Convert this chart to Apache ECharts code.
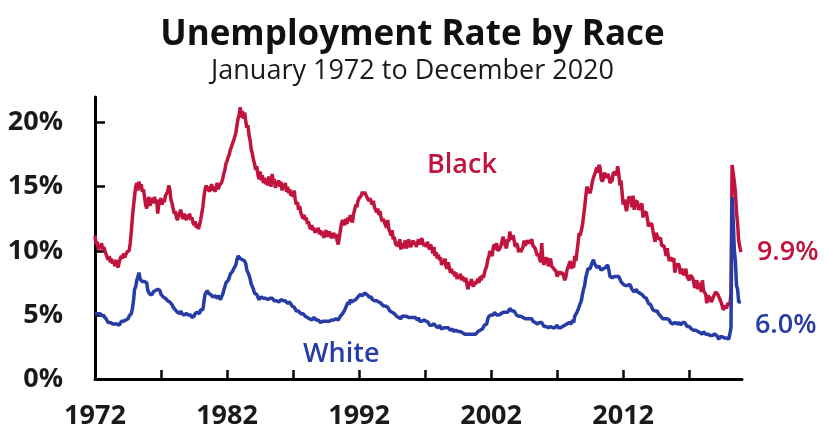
<!DOCTYPE html>
<html>
<head>
<meta charset="utf-8">
<script src="https://cdn.jsdelivr.net/npm/echarts@6/dist/echarts.min.js"></script>
<style>
  html, body { margin: 0; padding: 0; background: #ffffff; }
  #chart { width: 825px; height: 434px; }
</style>
</head>
<body>
<div id="chart"></div>
<script>
// Monthly unemployment rate (%), January 1972 .. December 2020, one row per year
const startYear = 1972;
const blackRate = [
  11.2, 10.5, 10.7, 10.1, 10.4, 10.2, 10.6, 10.0, 10.3, 10.0, 10.1, 9.5,   // 1972
  9.3, 9.6, 9.1, 9.4, 9.0, 9.2, 8.8, 9.3, 8.9, 8.7, 9.1, 9.4,              // 1973
  9.6, 9.4, 9.8, 9.5, 9.7, 9.9, 9.8, 10.0, 10.6, 11.5, 12.6, 13.5,         // 1974
  14.3, 15.0, 15.3, 14.7, 15.4, 14.9, 15.2, 14.6, 14.8, 14.2, 13.6, 13.3,  // 1975
  13.9, 14.2, 13.5, 13.9, 14.1, 13.7, 14.2, 13.8, 14.0, 12.9, 13.6, 13.9,  // 1976
  14.1, 13.6, 14.0, 13.8, 14.3, 14.4, 14.6, 15.1, 14.8, 14.0, 13.7, 13.3,  // 1977
  12.9, 13.1, 12.6, 12.4, 12.8, 13.0, 13.2, 12.7, 12.5, 12.9, 12.6, 12.4,  // 1978
  12.8, 12.5, 12.9, 12.4, 12.6, 12.2, 12.0, 12.3, 11.8, 12.1, 11.7, 12.0,  // 1979
  12.4, 12.9, 13.4, 14.2, 14.8, 15.1, 14.7, 15.0, 14.6, 14.9, 15.2, 14.7,  // 1980
  15.0, 14.6, 14.9, 15.3, 14.8, 15.1, 15.1, 15.3, 15.6, 16.0, 16.3, 16.8,  // 1981
  17.0, 17.3, 17.5, 17.9, 18.1, 18.4, 18.6, 18.9, 19.2, 19.8, 20.3, 20.6,  // 1982
  21.2, 20.4, 20.9, 20.3, 20.8, 20.1, 19.6, 19.8, 19.0, 18.6, 17.9, 17.6,  // 1983
  17.1, 16.8, 16.3, 16.6, 16.0, 15.6, 16.2, 15.5, 15.9, 15.3, 15.7, 15.2,  // 1984
  15.6, 15.1, 15.8, 15.4, 15.0, 16.0, 15.3, 15.6, 14.9, 15.4, 15.1, 15.5,  // 1985
  15.0, 15.4, 14.7, 15.2, 14.9, 15.3, 14.6, 15.0, 14.5, 14.8, 14.3, 14.6,  // 1986
  14.2, 14.7, 14.0, 13.6, 13.8, 13.2, 13.5, 13.0, 12.9, 12.5, 12.8, 12.4,  // 1987
  12.6, 12.1, 12.3, 11.9, 11.7, 12.0, 11.6, 11.8, 11.4, 11.7, 11.5, 11.8,  // 1988
  11.3, 11.6, 11.2, 11.5, 11.0, 11.4, 11.6, 11.1, 11.3, 11.5, 11.2, 11.0,  // 1989
  11.2, 11.4, 11.0, 11.3, 10.8, 10.5, 11.0, 11.6, 12.1, 12.4, 12.2, 12.0,  // 1990
  12.5, 12.1, 12.6, 12.3, 12.8, 12.5, 12.2, 12.9, 13.2, 13.6, 13.4, 13.9,  // 1991
  14.1, 14.0, 14.3, 14.6, 14.4, 14.6, 14.5, 14.2, 14.3, 13.9, 14.1, 13.8,  // 1992
  13.6, 13.9, 13.4, 13.5, 13.0, 13.3, 12.8, 13.1, 12.6, 12.3, 12.5, 12.2,  // 1993
  12.0, 11.8, 12.4, 11.7, 11.5, 11.2, 11.6, 10.9, 11.1, 10.6, 10.4, 10.7,  // 1994
  10.3, 10.9, 10.1, 10.6, 10.2, 10.5, 10.8, 10.2, 10.4, 10.9, 10.5, 10.3,  // 1995
  10.4, 10.8, 10.5, 10.7, 10.3, 10.6, 10.9, 10.5, 10.7, 11.0, 10.6, 10.4,  // 1996
  10.6, 10.3, 10.7, 10.4, 10.1, 10.5, 10.2, 9.8, 10.3, 9.6, 9.9, 9.4,      // 1997
  9.7, 9.3, 9.5, 8.9, 9.2, 9.0, 9.4, 8.8, 8.6, 9.1, 8.7, 8.3,              // 1998
  8.6, 8.2, 8.4, 8.0, 8.3, 7.8, 8.1, 7.9, 8.2, 7.7, 8.0, 7.9,              // 1999
  7.6, 7.9, 7.4, 7.0, 7.6, 7.3, 7.8, 7.5, 7.2, 7.6, 7.4, 7.3,              // 2000
  7.8, 7.5, 8.0, 7.7, 8.1, 7.9, 8.3, 8.6, 8.8, 9.3, 9.6, 10.0,             // 2001
  9.8, 9.6, 10.3, 10.5, 10.1, 10.6, 10.0, 9.9, 10.2, 10.4, 10.8, 11.1,     // 2002
  10.6, 10.4, 10.2, 10.9, 10.7, 11.5, 10.9, 11.0, 11.2, 11.3, 10.3, 10.6,  // 2003
  10.4, 9.9, 10.2, 9.9, 10.1, 10.3, 10.8, 10.4, 10.3, 10.8, 10.7, 10.6,    // 2004
  10.6, 10.9, 10.4, 10.3, 10.2, 10.1, 9.6, 9.8, 9.4, 9.1, 10.6, 9.3,       // 2005
  8.9, 9.4, 9.3, 9.4, 8.8, 9.1, 9.4, 8.8, 8.9, 8.6, 8.5, 8.4,              // 2006
  8.0, 8.1, 8.4, 8.2, 8.3, 8.3, 8.0, 7.7, 8.0, 8.5, 8.4, 9.0,              // 2007
  9.2, 8.6, 8.9, 8.7, 9.6, 9.2, 9.9, 10.6, 11.4, 11.2, 11.3, 12.0,         // 2008
  12.7, 13.4, 13.4, 15.0, 14.8, 14.7, 14.5, 14.9, 15.4, 15.7, 15.6, 16.2,  // 2009
  16.5, 16.1, 16.7, 16.5, 15.6, 15.4, 15.6, 16.1, 16.0, 15.7, 16.0, 15.8,  // 2010
  15.3, 15.3, 15.5, 16.1, 16.2, 16.1, 15.9, 16.6, 16.0, 15.1, 15.5, 15.6,  // 2011
  13.6, 14.0, 14.0, 13.1, 13.6, 14.2, 14.1, 14.1, 13.4, 14.3, 13.2, 13.9,  // 2012
  13.8, 13.8, 13.2, 13.2, 13.5, 13.7, 12.6, 13.0, 13.1, 13.0, 12.5, 11.9,  // 2013
  12.1, 12.0, 12.1, 11.6, 11.5, 10.7, 11.4, 11.3, 10.9, 10.8, 11.0, 10.4,  // 2014
  10.4, 10.4, 10.1, 9.6, 10.2, 9.6, 9.2, 9.5, 9.2, 9.2, 9.4, 8.3,          // 2015
  8.8, 8.8, 9.0, 8.8, 8.2, 8.6, 8.4, 8.1, 8.3, 8.6, 8.0, 7.9,              // 2016
  7.7, 8.1, 8.0, 7.9, 7.6, 7.1, 7.4, 7.7, 7.0, 7.5, 7.3, 6.8,              // 2017
  7.7, 6.9, 6.9, 6.6, 5.9, 6.5, 6.6, 6.3, 6.0, 6.2, 6.2, 6.6,              // 2018
  6.8, 6.9, 6.6, 6.7, 6.2, 6.0, 6.0, 5.4, 5.5, 5.7, 5.5, 5.9,              // 2019
  6.0, 5.8, 6.7, 16.7, 16.8, 15.4, 14.6, 13.0, 12.1, 10.8, 10.3, 9.9       // 2020
];
const whiteRate = [
  5.1, 5.1, 5.1, 5.1, 5.1, 5.0, 5.0, 4.9, 4.9, 4.9, 4.7, 4.7,   // 1972
  4.4, 4.4, 4.4, 4.3, 4.3, 4.3, 4.3, 4.3, 4.3, 4.2, 4.2, 4.3,   // 1973
  4.5, 4.6, 4.5, 4.4, 4.6, 4.6, 4.7, 4.9, 5.0, 5.1, 5.5, 6.1,   // 1974
  7.0, 7.2, 7.7, 7.8, 8.3, 7.8, 7.8, 7.6, 7.6, 7.6, 7.6, 7.5,   // 1975
  6.9, 6.8, 6.6, 6.6, 6.6, 6.8, 6.9, 6.9, 6.9, 7.0, 7.0, 6.9,   // 1976
  6.6, 6.7, 6.4, 6.3, 6.3, 6.4, 6.1, 6.1, 6.0, 6.0, 5.8, 5.6,   // 1977
  5.5, 5.4, 5.4, 5.2, 5.2, 5.1, 5.3, 5.1, 5.1, 5.0, 5.0, 5.1,   // 1978
  5.0, 5.0, 4.9, 5.0, 4.8, 4.9, 4.9, 5.1, 5.1, 5.2, 5.1, 5.1,   // 1979
  5.4, 5.3, 5.4, 6.0, 6.6, 6.7, 6.9, 6.7, 6.7, 6.6, 6.6, 6.4,   // 1980
  6.5, 6.5, 6.5, 6.3, 6.5, 6.4, 6.2, 6.3, 6.6, 6.9, 7.2, 7.5,   // 1981
  7.6, 7.7, 7.9, 8.2, 8.3, 8.4, 8.6, 8.7, 8.9, 9.3, 9.6, 9.7,   // 1982
  9.4, 9.4, 9.3, 9.2, 9.2, 9.0, 8.5, 8.3, 8.1, 7.8, 7.4, 7.3,   // 1983
  7.0, 6.7, 6.6, 6.6, 6.4, 6.2, 6.3, 6.4, 6.3, 6.3, 6.2, 6.3,   // 1984
  6.3, 6.2, 6.2, 6.3, 6.3, 6.3, 6.2, 6.1, 6.1, 6.1, 6.0, 6.0,   // 1985
  5.9, 6.2, 6.1, 6.1, 6.1, 6.1, 6.0, 5.9, 6.0, 6.0, 5.9, 5.7,   // 1986
  5.6, 5.6, 5.5, 5.3, 5.4, 5.3, 5.2, 5.1, 5.0, 5.1, 5.0, 4.9,   // 1987
  4.9, 4.8, 4.8, 4.7, 4.8, 4.6, 4.6, 4.8, 4.7, 4.6, 4.5, 4.6,   // 1988
  4.6, 4.4, 4.3, 4.5, 4.4, 4.5, 4.5, 4.5, 4.5, 4.5, 4.6, 4.6,   // 1989
  4.6, 4.6, 4.5, 4.7, 4.6, 4.6, 4.7, 4.9, 5.0, 5.1, 5.2, 5.4,   // 1990
  5.5, 5.8, 6.0, 5.8, 6.2, 6.0, 6.0, 6.1, 6.1, 6.2, 6.3, 6.4,   // 1991
  6.5, 6.6, 6.5, 6.5, 6.6, 6.7, 6.6, 6.6, 6.5, 6.4, 6.4, 6.4,   // 1992
  6.2, 6.1, 6.1, 6.1, 6.1, 6.1, 6.0, 5.9, 5.9, 5.9, 5.7, 5.6,   // 1993
  5.7, 5.6, 5.6, 5.5, 5.3, 5.2, 5.2, 5.2, 5.1, 5.0, 4.9, 4.8,   // 1994
  4.8, 4.7, 4.7, 4.9, 4.9, 4.9, 4.9, 4.9, 4.9, 4.8, 4.9, 4.8,   // 1995
  4.9, 4.8, 4.8, 4.8, 4.8, 4.6, 4.8, 4.5, 4.6, 4.5, 4.6, 4.6,   // 1996
  4.5, 4.5, 4.4, 4.4, 4.2, 4.3, 4.2, 4.3, 4.3, 4.2, 4.1, 4.2,   // 1997
  4.0, 4.2, 4.2, 3.9, 3.9, 4.0, 4.1, 4.0, 4.0, 4.0, 3.9, 3.8,   // 1998
  3.9, 3.9, 3.7, 3.8, 3.8, 3.7, 3.7, 3.7, 3.7, 3.6, 3.6, 3.6,   // 1999
  3.5, 3.6, 3.5, 3.4, 3.5, 3.5, 3.5, 3.5, 3.5, 3.5, 3.5, 3.5,   // 2000
  3.7, 3.7, 3.8, 3.9, 3.9, 4.0, 4.2, 4.3, 4.3, 4.7, 4.9, 5.0,   // 2001
  5.0, 5.0, 5.0, 5.2, 5.1, 5.0, 5.1, 5.0, 5.0, 5.1, 5.2, 5.2,   // 2002
  5.1, 5.2, 5.1, 5.2, 5.3, 5.5, 5.4, 5.3, 5.4, 5.3, 5.2, 5.0,   // 2003
  5.0, 4.9, 5.0, 4.9, 4.9, 4.8, 4.8, 4.7, 4.7, 4.7, 4.7, 4.7,   // 2004
  4.6, 4.7, 4.5, 4.4, 4.4, 4.4, 4.3, 4.3, 4.4, 4.4, 4.4, 4.3,   // 2005
  4.1, 4.1, 4.1, 4.1, 4.0, 4.1, 4.1, 4.1, 4.0, 3.9, 4.0, 3.9,   // 2006
  4.2, 4.0, 3.9, 4.0, 3.9, 4.1, 4.2, 4.2, 4.2, 4.3, 4.2, 4.4,   // 2007
  4.4, 4.3, 4.6, 4.4, 4.9, 4.9, 5.2, 5.4, 5.4, 5.9, 6.1, 6.6,   // 2008
  7.0, 7.3, 7.9, 8.0, 8.6, 8.7, 8.6, 8.9, 8.9, 9.3, 9.0, 9.0,   // 2009
  8.7, 8.8, 8.8, 8.7, 8.5, 8.6, 8.6, 8.7, 8.7, 8.7, 8.9, 8.5,   // 2010
  8.0, 7.9, 7.9, 8.0, 8.0, 8.1, 8.0, 8.0, 8.0, 7.8, 7.6, 7.5,   // 2011
  7.4, 7.3, 7.3, 7.3, 7.3, 7.3, 7.4, 7.2, 7.0, 6.9, 6.8, 6.9,   // 2012
  7.0, 6.8, 6.7, 6.7, 6.6, 6.6, 6.5, 6.4, 6.4, 6.3, 6.1, 5.9,   // 2013
  5.8, 5.8, 5.8, 5.4, 5.4, 5.3, 5.3, 5.3, 5.1, 5.0, 4.9, 4.8,   // 2014
  4.7, 4.7, 4.7, 4.6, 4.7, 4.6, 4.6, 4.4, 4.4, 4.3, 4.3, 4.4,   // 2015
  4.3, 4.3, 4.4, 4.4, 4.2, 4.3, 4.4, 4.4, 4.4, 4.3, 4.1, 4.2,   // 2016
  4.1, 4.1, 3.9, 3.8, 3.8, 3.8, 3.8, 3.8, 3.7, 3.6, 3.6, 3.7,   // 2017
  3.5, 3.7, 3.6, 3.5, 3.4, 3.5, 3.4, 3.4, 3.4, 3.4, 3.4, 3.5,   // 2018
  3.5, 3.4, 3.4, 3.1, 3.3, 3.3, 3.3, 3.4, 3.2, 3.2, 3.2, 3.2,   // 2019
  3.1, 3.1, 4.0, 14.2, 12.4, 10.1, 9.2, 7.3, 7.0, 6.0, 5.9, 6.0 // 2020
];
const yTickValues = [0, 5, 10, 15, 20];
const xTickYears = [1977, 1982, 1987, 1992, 1997, 2002, 2007, 2012, 2017];
const xLabelYears = [1972, 1982, 1992, 2002, 2012];

const RED = '#C0143F';
const BLUE = '#283CA6';
const FONT = '"Open Sans", "DejaVu Sans", sans-serif';

const toSeries = arr => arr.map((v, i) => [startYear + i / 12, v]);

const chart = echarts.init(document.getElementById('chart'), null, { renderer: 'canvas' });
chart.setOption({
  backgroundColor: '#ffffff',
  animation: false,
  title: {
    text: 'Unemployment Rate by Race',
    subtext: 'January 1972 to December 2020',
    left: 'center',
    top: 15,
    padding: 0,
    itemGap: 1,
    textStyle: { fontFamily: FONT, fontSize: 35, fontWeight: 'bold', color: '#111', lineHeight: 40 },
    subtextStyle: { fontFamily: FONT, fontSize: 27, color: '#1a1a1a', lineHeight: 30 }
  },
  grid: { left: 95, right: 83, top: 97, bottom: 55, containLabel: false },
  xAxis: {
    type: 'value',
    min: 1972,
    max: 2021,
    splitLine: { show: false },
    axisLine: { lineStyle: { color: '#000', width: 3 } },
    axisTick: { inside: true, length: 9, lineStyle: { color: '#000', width: 2.5 }, customValues: xTickYears },
    axisLabel: {
      customValues: xLabelYears,
      margin: 24,
      fontFamily: FONT, fontSize: 27, fontWeight: 'bold', color: '#1a1a1a',
      formatter: v => String(Math.round(v))
    }
  },
  yAxis: {
    type: 'value',
    min: 0,
    max: 22,
    splitLine: { show: false },
    axisLine: { show: true, lineStyle: { color: '#000', width: 3 } },
    axisTick: { show: true, inside: true, length: 10, lineStyle: { color: '#000', width: 2.5 }, customValues: yTickValues },
    axisLabel: {
      customValues: yTickValues,
      margin: 32,
      fontFamily: FONT, fontSize: 27, fontWeight: 'bold', color: '#1a1a1a',
      formatter: v => v + '%'
    }
  },
  series: [
    {
      name: 'Black',
      type: 'line',
      data: toSeries(blackRate),
      showSymbol: false,
      lineStyle: { color: RED, width: 3.5 },
      itemStyle: { color: RED },
      endLabel: {
        show: true,
        distance: 16,
        fontFamily: FONT, fontSize: 27, fontWeight: 600, color: RED,
        formatter: p => p.value[1].toFixed(1) + '%'
      }
    },
    {
      name: 'White',
      type: 'line',
      data: toSeries(whiteRate),
      showSymbol: false,
      lineStyle: { color: BLUE, width: 3.5 },
      itemStyle: { color: BLUE },
      endLabel: {
        show: true,
        distance: 14,
        offset: [0, 23],
        fontFamily: FONT, fontSize: 27, fontWeight: 600, color: BLUE,
        formatter: p => p.value[1].toFixed(1) + '%'
      }
    }
  ],
  graphic: [
    { type: 'text', left: 427, top: 152, style: { text: 'Black', font: '600 27px ' + FONT, fill: RED } },
    { type: 'text', left: 303, top: 341, style: { text: 'White', font: '600 27px ' + FONT, fill: BLUE } }
  ]
});
</script>
</body>
</html>
